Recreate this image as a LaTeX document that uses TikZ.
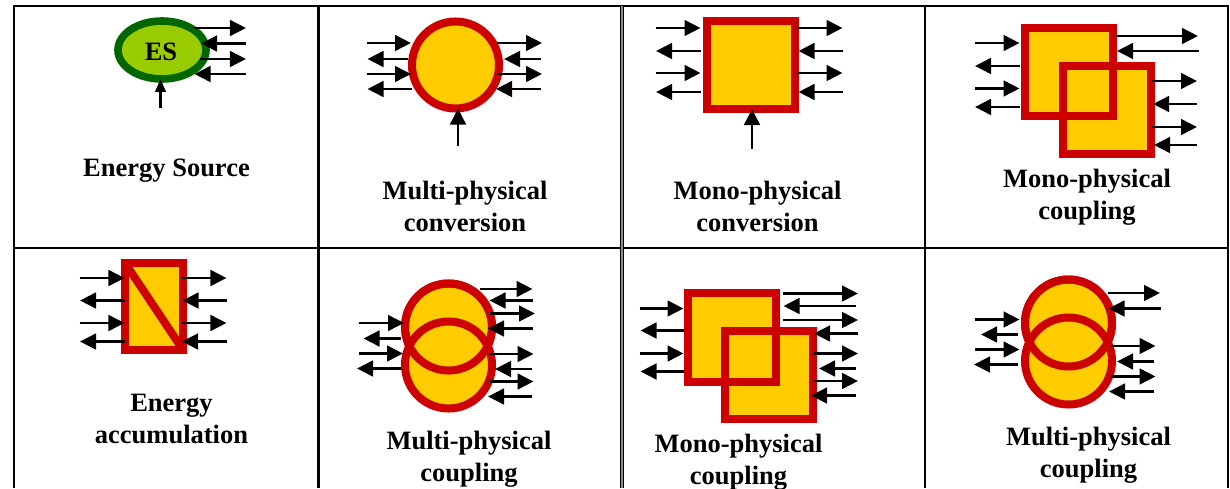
\documentclass[tikz,border=0pt]{standalone}
\usepackage{fontspec}
\setmainfont{Liberation Serif}
\definecolor{ringred}{RGB}{204, 0, 0}
\definecolor{fillyellow}{RGB}{255, 204, 0}
\definecolor{ringgreen}{RGB}{0, 102, 0}
\definecolor{fillgreen}{RGB}{153, 204, 0}
\usetikzlibrary{shapes.geometric, arrows.meta}

\begin{document}
\begin{tikzpicture}[
  x=0.025cm, y=-0.025cm,
  gridline/.style={draw=black, line width=0.06cm},
  flow/.style={-{Triangle[length=0.4cm, width=0.39cm]}, line width=0.07cm},
  flowsmall/.style={-{Triangle[length=0.32cm, width=0.26cm]}, line width=0.055cm},
  disc/.style={circle, draw=ringred, fill=fillyellow, line width=0.2cm, minimum size=2.175cm, inner sep=0pt, outer sep=0pt},
  block/.style={rectangle, draw=ringred, fill=fillyellow, line width=0.2cm, minimum width=2.2cm, minimum height=2.2cm, inner sep=0pt, outer sep=0pt},
  caption/.style={align=center, inner sep=0pt, font=\fontsize{18.85}{22.8}\selectfont\bfseries}
]
  \useasboundingbox (0,0) rectangle (1230,488);

  % table lines
  \draw[gridline] (14,488) -- (14,6) -- (1228,6) -- (1228,248) -- (14,248);
  \draw[gridline, line width=0.075cm] (318,6) -- (318,488);
  \draw[draw=black!45, line width=0.1cm] (622,6) -- (622,488);
  \draw[draw=black, line width=0.035cm] (620.7,6) -- (620.7,488);
  \draw[draw=black, line width=0.035cm] (623.3,6) -- (623.3,488);
  \draw[gridline] (925,6) -- (925,488);
  \draw[gridline] (1228,248) -- (1228,488);

  % energy source
  \node[ellipse, draw=ringgreen, fill=fillgreen, line width=0.19cm, minimum width=2.2cm, minimum height=1.45cm, inner sep=0pt, outer sep=0pt] (es) at (162, 50) {};
  \node[caption] (eslabel) at (161, 52) {ES};
  \coordinate (esfeed) at (160.5, 108);
  \draw[flowsmall] (esfeed) -- (es.south -| esfeed);
  \draw[flow] (193.5,28) -- (246,28);
  \draw[flow] (246,43.5) -- (201,43.5);
  \draw[flow] (200,59) -- (246,59);
  \draw[flow] (246,74) -- (194.5,74);
  \node[caption] (capes) at (166.5, 171) {Energy Source};

  % multi-physical conversion
  \node[disc] (mpconv) at (455.5, 65) {};
  \coordinate (mpfeed) at (458, 146);
  \draw[flow] (mpfeed) -- (mpconv.south -| mpfeed);
  \draw[flow] (367,43) -- (411,43);
  \draw[flow] (408,59) -- (367.5,59);
  \draw[flow] (367,74) -- (411,74);
  \draw[flow] (412,89) -- (367.5,89);
  \draw[flow] (497,43) -- (542,43);
  \draw[flow] (541,59) -- (504,59);
  \draw[flow] (497,74) -- (542,74);
  \draw[flow] (541,89) -- (496,89);
  \node[caption] (capmp) at (465, 206) {Multi-physical\\conversion};

  % mono-physical conversion
  \node[block] (moconv) at (750.7, 65) {};
  \coordinate (mofeed) at (752, 149);
  \draw[flow] (mofeed) -- (moconv.south -| mofeed);
  \draw[flow] (655.5,28) -- (700.5,28);
  \draw[flow] (700.5,51) -- (656,51);
  \draw[flow] (655.5,73) -- (700.5,73);
  \draw[flow] (700.5,92) -- (656,92);
  \draw[flow] (797,28) -- (842.5,28);
  \draw[flow] (842.5,51) -- (798.5,51);
  \draw[flow] (797,73) -- (842.5,73);
  \draw[flow] (842.5,92) -- (798.5,92);
  \node[caption] (capmo) at (757.5, 206) {Mono-physical\\conversion};

  % mono-physical coupling, first row
  \node[block] (cpla) at (1069, 72) {};
  \node[block] (cplb) at (1106.5, 110) {};
  \node[block, fill=none] (cplaring) at (cpla) {};
  \draw[flow] (975,43) -- (1019.5,43);
  \draw[flow] (1020,66) -- (975,66);
  \draw[flow] (975,88.5) -- (1019.5,88.5);
  \draw[flow] (1020,107) -- (975,107);
  \draw[flow] (1116,36) -- (1198,36);
  \draw[flow] (1198.5,51) -- (1117,51);
  \draw[flow] (1152,81) -- (1197,81);
  \draw[flow] (1197,104) -- (1153,104);
  \draw[flow] (1152,127) -- (1197,127);
  \draw[flow] (1197,145) -- (1154,145);
  \node[caption] (capcpla) at (1087, 197) {Mono-physical\\coupling};

  % energy accumulation
  \node[block, minimum width=1.45cm, minimum height=2.175cm] (acc) at (154, 306.5) {};
  \draw[draw=ringred, line width=0.2cm] (acc.north west) -- (acc.south east);
  \draw[flow] (79.5,278) -- (124.5,278);
  \draw[flow] (124.5,300.5) -- (80,300.5);
  \draw[flow] (79.5,323) -- (124.5,323);
  \draw[flow] (124.5,341.5) -- (80,341.5);
  \draw[flow] (182,278) -- (226.5,278);
  \draw[flow] (227,300.5) -- (182.5,300.5);
  \draw[flow] (182,323) -- (226.5,323);
  \draw[flow] (227,341.5) -- (182,341.5);
  \node[caption] (capacc) at (171.5, 419) {Energy\\accumulation};

  % multi-physical coupling, second column
  \node[disc] (cplc) at (448.5, 327) {};
  \node[disc] (cpld) at (448.5, 365) {};
  \node[disc, fill=none] (cplcring) at (cplc) {};
  \draw[flow] (358.5,323) -- (404,323);
  \draw[flow] (401,338.5) -- (363.5,338.5);
  \draw[flow] (358.5,353.5) -- (403,353.5);
  \draw[flow] (401,368.5) -- (357,368.5);
  \draw[flow] (480,289) -- (532.5,289);
  \draw[flow] (533,300.5) -- (489.5,300.5);
  \draw[flow] (490,313.5) -- (535,313.5);
  \draw[flow] (533,328.5) -- (488,328.5);
  \draw[flow] (489,354) -- (533.5,354);
  \draw[flow] (531.5,369) -- (495,369);
  \draw[flow] (489,381.5) -- (533.5,381.5);
  \draw[flow] (531.5,396.5) -- (488,396.5);
  \node[caption] (capcplc) at (469, 459) {Multi-physical\\coupling};

  % mono-physical coupling, third column
  \node[block] (cple) at (731.6, 337.5) {};
  \node[block] (cplf) at (769, 375) {};
  \node[block, fill=none] (cplering) at (cple) {};
  \draw[flow] (639.5,308.5) -- (683.5,308.5);
  \draw[flow] (683.5,330.5) -- (640.5,330.5);
  \draw[flow] (639.5,353.5) -- (683.5,353.5);
  \draw[flow] (683.5,371.5) -- (640.5,371.5);
  \draw[flow] (783,293.5) -- (858,293.5);
  \draw[flow] (855.5,306) -- (783.5,306);
  \draw[flow] (783,320) -- (858,320);
  \draw[flow] (858,333.5) -- (814,333.5);
  \draw[flow] (814,353.5) -- (858,353.5);
  \draw[flow] (855.5,368.5) -- (819,368.5);
  \draw[flow] (814,381) -- (858,381);
  \draw[flow] (855.5,395.5) -- (811,395.5);
  \node[caption] (capcple) at (738.5, 462) {Mono-physical\\coupling};

  % multi-physical coupling, fourth column
  \node[disc] (cplg) at (1068.5, 323) {};
  \node[disc] (cplh) at (1068.5, 361) {};
  \node[disc, fill=none] (cplgring) at (cplg) {};
  \draw[flow] (975,319.5) -- (1019.5,319.5);
  \draw[flow] (1017.5,334.5) -- (981,334.5);
  \draw[flow] (975,349.5) -- (1019.5,349.5);
  \draw[flow] (1017.5,364.5) -- (974,364.5);
  \draw[flow] (1108,293) -- (1160,293);
  \draw[flow] (1161,308.5) -- (1108.5,308.5);
  \draw[flow] (1111,346) -- (1155.5,346);
  \draw[flow] (1153.5,361.5) -- (1117,361.5);
  \draw[flow] (1111,376.5) -- (1155.5,376.5);
  \draw[flow] (1153.5,391.5) -- (1109,391.5);
  \node[caption] (capcplg) at (1088.5, 455) {Multi-physical\\coupling};
\end{tikzpicture}
\end{document}
